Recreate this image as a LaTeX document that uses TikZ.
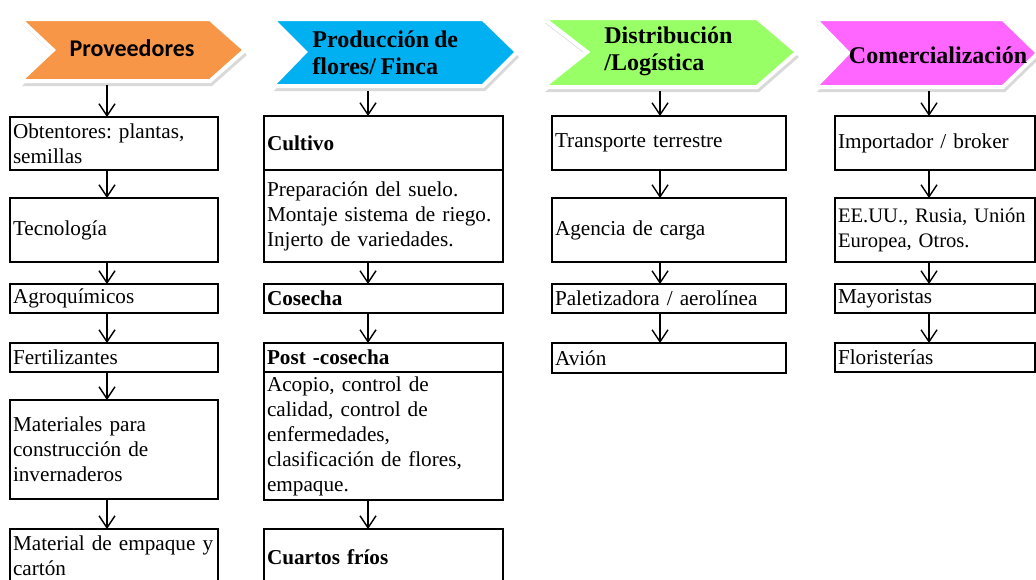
\documentclass[tikz,border=0pt]{standalone}
\usepackage{fontspec}
\setmainfont{Liberation Serif}[WordSpace=0.8]
\newfontfamily\carlito{Carlito}
\usetikzlibrary{arrows.meta,shadows}
\frenchspacing

\definecolor{naranja}{RGB}{247,150,70}
\definecolor{celeste}{RGB}{0,176,240}
\definecolor{verdeclaro}{RGB}{153,255,102}
\definecolor{rosado}{RGB}{255,102,255}

\begin{document}
\begin{tikzpicture}[x=0.5pt,y=-0.5pt,
  caja/.style={draw, line width=1pt, anchor=north west, align=left, outer sep=0pt,
    inner xsep=1.5pt, inner ysep=0pt, font=\fontsize{10.6}{12.5}\selectfont},
  flecha/.style={-{Straight Barb[length=6pt,width=8pt]}, line width=0.7pt},
  cabeza/.style={draw=white, line width=2pt,
    drop shadow={shadow xshift=1pt, shadow yshift=-2.5pt, opacity=0.3}},
  titulo/.style={font=\fontsize{12}{13.5}\selectfont\bfseries, align=left, inner sep=0pt}]

\useasboundingbox (0,0) rectangle (1036,579);
\clip (0,0) rectangle (1036,579);

% encabezados
\draw[cabeza, fill=naranja] (20,19) -- (210,19) -- (245,50) -- (210,81) -- (20,81) -- (53,50) -- cycle;
\draw[cabeza, fill=celeste] (272,19) -- (483,19) -- (517,52) -- (483,86) -- (272,86) -- (305,52) -- cycle;
\draw[cabeza, fill=verdeclaro] (543,18) -- (757,18) -- (797,52) -- (757,87) -- (543,87) -- (587,52) -- cycle;
\draw[cabeza, fill=rosado] (815,19) -- (1003,19) -- (1038,53) -- (1003,87) -- (815,87) -- (848,53) -- cycle;

\node[titulo, font=\carlito\fontsize{12}{13.5}\selectfont\bfseries] (prov) at (132,48) {Proveedores};
\node[titulo, anchor=west] (prod) at (312,53) {Producción de\\flores/ Finca};
\node[titulo, anchor=west] (dist) at (604,51) {Distribución\\/Logística};
\node[titulo] (come) at (938,55) {Comercialización};

\coordinate (c1) at (107,0);
\coordinate (c2) at (368,0);
\coordinate (c3) at (660,0);
\coordinate (c4) at (929,0);
\coordinate (provBase) at (107,85);
\coordinate (prodBase) at (368,91);
\coordinate (distBase) at (660,91);
\coordinate (comeBase) at (929,91);

% proveedores
\node[caja, text width=101pt, minimum height=26.5pt] (obt) at (10,117) {Obtentores: plantas,\\semillas};
\node[caja, text width=101pt, minimum height=32pt] (tec) at (10,198) {Tecnología};
\node[caja, text width=101pt, minimum height=14.5pt] (agro) at (10,284) {Agroquímicos};
\node[caja, text width=101pt, minimum height=14.5pt] (fert) at (10,343) {Fertilizantes};
\node[caja, text width=101pt, minimum height=49.5pt] (mat) at (10,400) {Materiales para\\construcción de\\invernaderos};
\node[caja, text width=101pt, minimum height=27pt] (emp) at (10,529) {Material de empaque y\\cartón};

% produccion
\node[caja, text width=116.5pt, minimum height=27pt] (cult) at (264,116) {\bfseries Cultivo};
\node[caja, text width=116.5pt, minimum height=46pt] (cultTxt) at (cult.south west) {Preparación del suelo.\\Montaje sistema de riego.\\Injerto de variedades.};
\node[caja, text width=116.5pt, minimum height=14.5pt] (cos) at (264,284) {\bfseries Cosecha};
\node[caja, text width=116.5pt, minimum height=14.5pt] (post) at (264,343) {\bfseries Post -cosecha};
\node[caja, text width=116.5pt, minimum height=64pt] (postTxt) at (post.south west) {Acopio, control de\\calidad, control de\\enfermedades,\\clasificación de flores,\\empaque.};
\node[caja, text width=116.5pt, minimum height=28pt] (frio) at (264,529) {\bfseries Cuartos fríos};

% distribucion
\node[caja, text width=114pt, minimum height=27pt] (trans) at (552,116) {Transporte terrestre};
\node[caja, text width=114pt, minimum height=32pt] (agen) at (552,198) {Agencia de carga};
\node[caja, text width=114pt, minimum height=14.5pt] (palet) at (552,284) {Paletizadora / aerolínea};
\node[caja, text width=114pt, minimum height=15pt] (avion) at (552,343) {Avión};

% comercializacion
\node[caja, text width=97pt, minimum height=27pt] (imp) at (835,116) {Importador / broker};
\node[caja, text width=97pt, minimum height=32pt, font=\fontsize{10.3}{12.5}\selectfont] (eeuu) at (835,198) {EE.UU., Rusia, Unión\\Europea, Otros.};
\node[caja, text width=97pt, minimum height=14.5pt] (may) at (835,284) {Mayoristas};
\node[caja, text width=97pt, minimum height=14.5pt] (flor) at (835,343) {Floristerías};

\draw[flecha] (provBase) -- (obt.north -| c1);
\draw[flecha] (obt.south -| c1) -- (tec.north -| c1);
\draw[flecha] (tec.south -| c1) -- (agro.north -| c1);
\draw[flecha] (agro.south -| c1) -- (fert.north -| c1);
\draw[flecha] (fert.south -| c1) -- (mat.north -| c1);
\draw[flecha] (mat.south -| c1) -- (emp.north -| c1);

\draw[flecha] (prodBase) -- (cult.north -| c2);
\draw[flecha] (cultTxt.south -| c2) -- (cos.north -| c2);
\draw[flecha] (cos.south -| c2) -- (post.north -| c2);
\draw[flecha] (postTxt.south -| c2) -- (frio.north -| c2);

\draw[flecha] (distBase) -- (trans.north -| c3);
\draw[flecha] (trans.south -| c3) -- (agen.north -| c3);
\draw[flecha] (agen.south -| c3) -- (palet.north -| c3);
\draw[flecha] (palet.south -| c3) -- (avion.north -| c3);

\draw[flecha] (comeBase) -- (imp.north -| c4);
\draw[flecha] (imp.south -| c4) -- (eeuu.north -| c4);
\draw[flecha] (eeuu.south -| c4) -- (may.north -| c4);
\draw[flecha] (may.south -| c4) -- (flor.north -| c4);

\end{tikzpicture}
\end{document}
